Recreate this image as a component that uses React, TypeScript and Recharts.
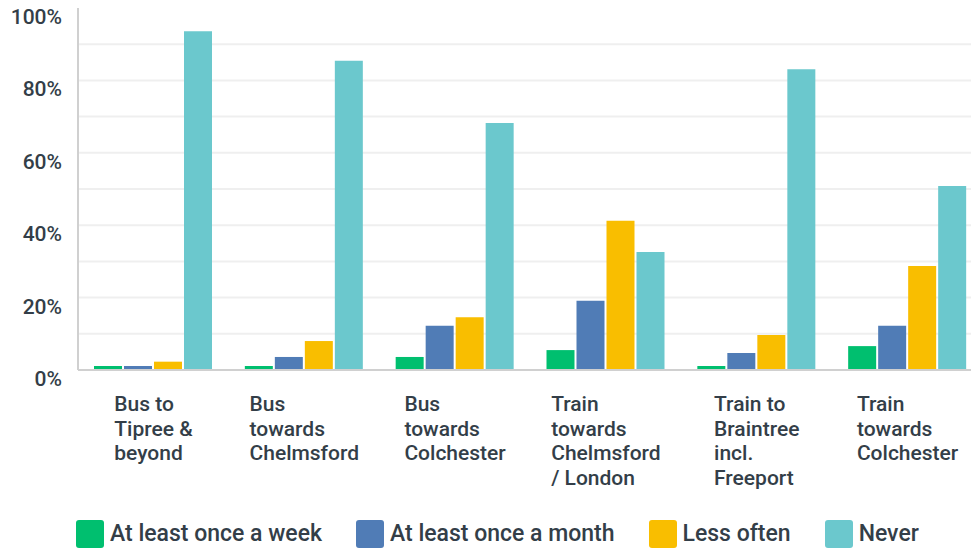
import { BarChart, Bar, XAxis, YAxis, CartesianGrid, Legend } from 'recharts'

const categories = [
  'Bus to\nTipree &\nbeyond',
  'Bus\ntowards\nChelmsford',
  'Bus\ntowards\nColchester',
  'Train\ntowards\nChelmsford\n/ London',
  'Train to\nBraintree\nincl.\nFreeport',
  'Train\ntowards\nColchester',
]

const weekly = [1.1, 1.1, 3.6, 5.5, 1.1, 6.6]
const monthly = [1.1, 3.6, 12.2, 19.1, 4.7, 12.2]
const lessOften = [2.3, 8.0, 14.6, 41.2, 9.7, 28.7]
const never = [93.6, 85.4, 68.2, 32.6, 83.1, 50.8]

const yTicks = [0, 10, 20, 30, 40, 50, 60, 70, 80, 90, 100]
const gridValues = [10, 20, 30, 40, 50, 60, 70, 80, 90]

const SERIES = [
  { key: 'weekly', name: 'At least once a week', color: '#00bf6f' },
  { key: 'monthly', name: 'At least once a month', color: '#507cb6' },
  { key: 'lessOften', name: 'Less often', color: '#f9be00' },
  { key: 'never', name: 'Never', color: '#6bc8cd' },
]

const data = categories.map((c, i) => ({
  category: c,
  weekly: weekly[i],
  monthly: monthly[i],
  lessOften: lessOften[i],
  never: never[i],
}))

const FONT = 'Roboto, "Open Sans", sans-serif'
const TEXT = '#333e48'

let ctx: CanvasRenderingContext2D | null = null
const measure = (s: string, font: string) => {
  if (!ctx) ctx = document.createElement('canvas').getContext('2d')
  if (!ctx) return s.length * 10
  ctx.font = font
  return ctx.measureText(s).width
}

// multi-line label, lines left aligned, block centred under the group
// eslint-disable-next-line @typescript-eslint/no-explicit-any
function CategoryTick({ x, y, payload }: any) {
  const lines = String(payload.value).split('\n')
  const w = Math.max(...lines.map((l) => measure(l, `500 21px ${FONT}`)))
  const left = x - w / 2
  return (
    <text x={left} y={y} fill={TEXT} fontSize={21} fontWeight={500} fontFamily={FONT}>
      {lines.map((l, i) => (
        <tspan key={i} x={left} dy={i === 0 ? 41 : 24.5}>
          {l}
        </tspan>
      ))}
    </text>
  )
}

// eslint-disable-next-line @typescript-eslint/no-explicit-any
function PercentTick({ x, y, payload }: any) {
  if (payload.value % 20 !== 0) return <g />
  return (
    <text x={x} y={y} dy={16} textAnchor="end" fill={TEXT} fontSize={21} fontWeight={500} fontFamily={FONT}>
      {payload.value}%
    </text>
  )
}

function LegendContent() {
  return (
    <div style={{ display: 'flex', gap: 34, alignItems: 'center', fontFamily: FONT }}>
      {SERIES.map((s) => (
        <div key={s.key} style={{ display: 'flex', alignItems: 'center', gap: 6 }}>
          <span style={{ display: 'inline-block', width: 28, height: 28, borderRadius: 3, background: s.color }} />
          <span style={{ fontSize: 23, fontWeight: 500, color: TEXT, lineHeight: '28px' }}>{s.name}</span>
        </div>
      ))}
    </div>
  )
}

export default function App() {
  return (
    <div style={{ position: 'absolute', left: 0, top: 0, width: 971, height: 549, overflow: 'hidden' }}>
      <BarChart
        width={983}
        height={549}
        data={data}
        margin={{ top: 8, right: 0, bottom: 0, left: 8 }}
        barSize={28}
        barGap={2}
      >
        <CartesianGrid vertical={false} horizontalValues={gridValues} stroke="#efefef" strokeWidth={2} />
        <XAxis
          dataKey="category"
          height={150}
          interval={0}
          tickLine={false}
          tickSize={0}
          tickMargin={0}
          axisLine={{ stroke: '#d0d0d0', strokeWidth: 2 }}
          tick={<CategoryTick />}
        />
        <YAxis
          width={70}
          domain={[0, 100]}
          ticks={yTicks}
          interval={0}
          tickLine={false}
          tickSize={8}
          tickMargin={8}
          axisLine={{ stroke: '#d0d0d0', strokeWidth: 2 }}
          tick={<PercentTick />}
        />
        <Legend
          verticalAlign="bottom"
          align="left"
          content={<LegendContent />}
          wrapperStyle={{ left: 76, bottom: 0, width: 'auto', height: 29 }}
        />
        {SERIES.map((s) => (
          <Bar key={s.key} dataKey={s.key} name={s.name} fill={s.color} isAnimationActive={false} />
        ))}
      </BarChart>
    </div>
  )
}
